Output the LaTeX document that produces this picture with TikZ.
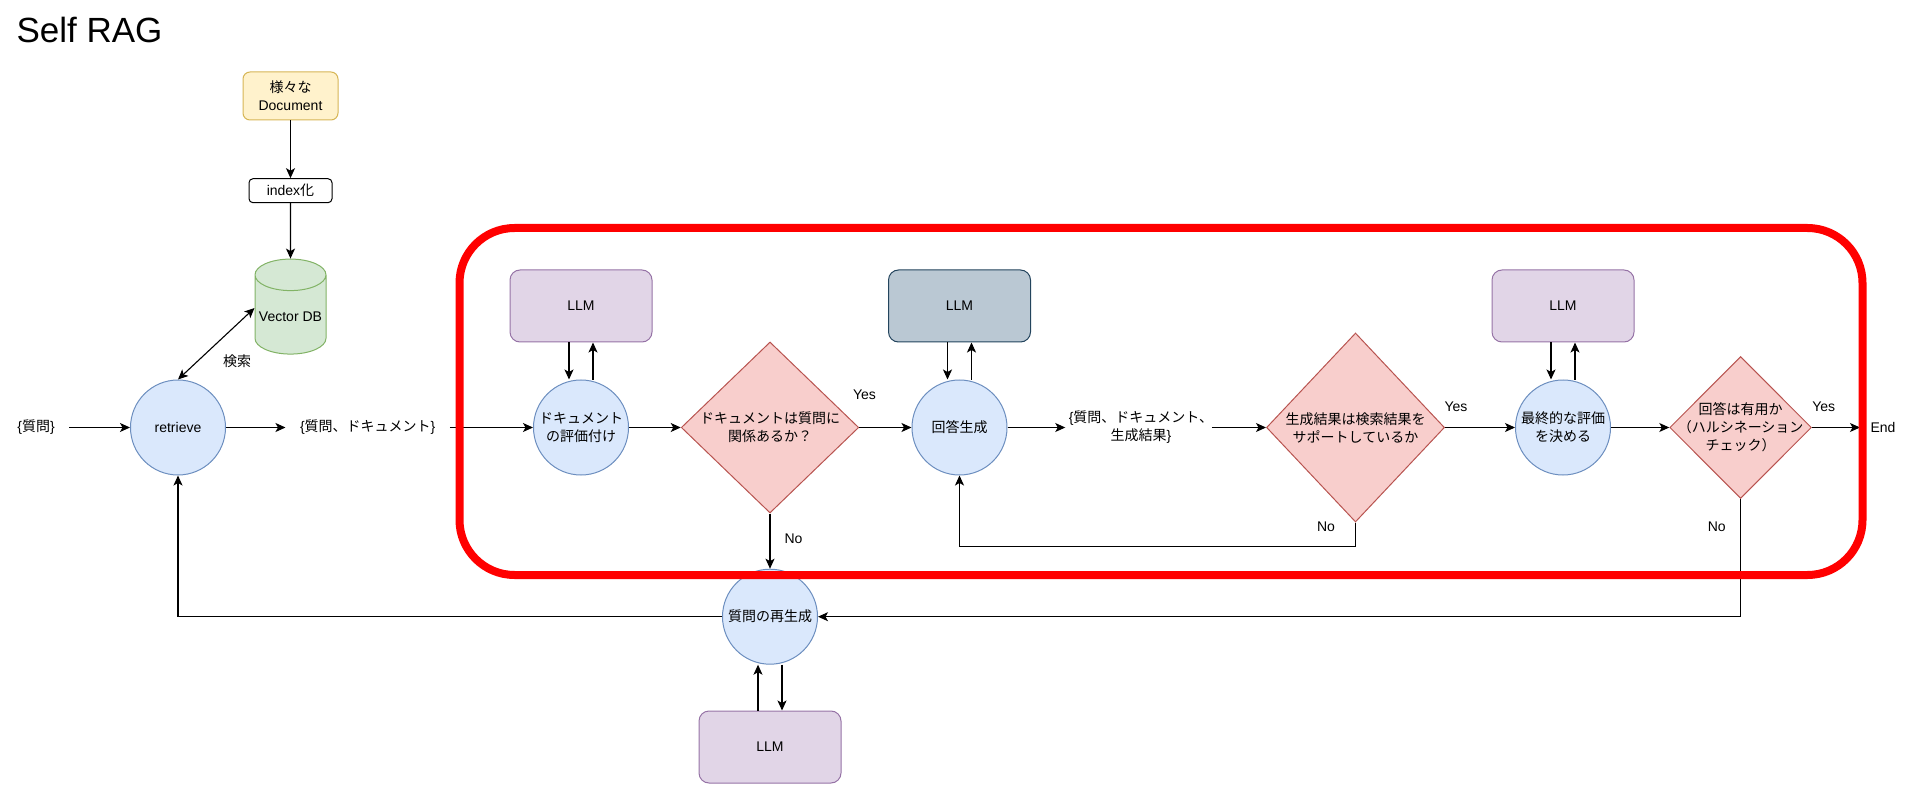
\documentclass[tikz,border=0pt]{standalone}
\usepackage{fontspec}
\setmainfont{Liberation Sans}
\newfontfamily\cjk{Noto Sans CJK JP}
\newcommand{\jp}[1]{{\cjk #1}}
\usetikzlibrary{arrows.meta}
\usetikzlibrary{shapes.geometric}
\definecolor{procfill}{HTML}{DAE8FC}
\definecolor{procline}{HTML}{6C8EBF}
\definecolor{qfill}{HTML}{F8CECC}
\definecolor{qline}{HTML}{B85450}
\definecolor{llmfill}{HTML}{E1D5E7}
\definecolor{llmline}{HTML}{9673A6}
\definecolor{darkfill}{HTML}{BAC8D3}
\definecolor{darkline}{HTML}{23445D}
\definecolor{docfill}{HTML}{FFF2CC}
\definecolor{docline}{HTML}{D6B656}
\definecolor{dbfill}{HTML}{D5E8D4}
\definecolor{dbline}{HTML}{82B366}

\begin{document}
\begin{tikzpicture}[->,>={Stealth[length=10pt,width=9pt,inset=2.5pt]},x=1pt,y=-1pt,line width=1.1pt,
    every node/.style={font=\fontsize{14pt}{18pt}\selectfont,align=center,inner sep=0pt},
    process/.style={circle,draw=procline,fill=procfill,minimum size=95pt,line width=1pt},
    question/.style={diamond,draw=qline,fill=qfill,inner sep=-30pt,line width=1pt},
    llm/.style={rectangle,rounded corners=10pt,draw=llmline,fill=llmfill,minimum width=142pt,minimum height=72pt,line width=1pt},
    llmdark/.style={llm,draw=darkline,fill=darkfill},
    dataset/.style={inner xsep=14pt}]
  \useasboundingbox (0,0) rectangle (1920,802);

  \node[anchor=base west,font=\fontsize{35pt}{35pt}\selectfont] (title) at (16,43) {Self RAG};

  \node[cylinder,shape border rotate=90,aspect=.5,draw=dbline,fill=dbfill,minimum height=95pt,minimum width=71pt,line width=1pt]
      (vdb) at (290.5,314.7) {\smash{\raisebox{-6.5pt}{Vector DB}}};
  \node[rectangle,rounded corners=4pt,draw=black,fill=white,minimum width=83pt,minimum height=24pt,line width=1pt]
      (index) [above of=vdb,node distance=124pt] {index\jp{化}};
  \node[rectangle,rounded corners=7pt,draw=docline,fill=docfill,minimum width=95pt,minimum height=48pt,line width=1pt]
      (docs) [above of=index,node distance=94.7pt] {\jp{様々な}\\Document};

  \node[dataset]	(query) at (36,427.5)                         {\{\jp{質問}\}};
  \node[process]	(retrieve) [right of=query,node distance=142pt]  {retrieve};
  \node[dataset]	(pair) [right of=retrieve,node distance=189.7pt] {\{\jp{質問、ドキュメント}\}};
  \node[process]	(grade) [right of=pair,node distance=213.3pt]    {\jp{ドキュメント}\\\jp{の評価付け}};
  \node[question,minimum width=177.5pt,minimum height=171pt]
      (relevant) [right of=grade,node distance=189pt] {\jp{ドキュメントは質問に}\\\jp{関係あるか？}};
  \node[process]	(generate) [right of=relevant,node distance=189.5pt] {\jp{回答生成}};
  \node[inner xsep=3pt]	(result) [right of=generate,node distance=181.5pt]  {\{\jp{質問、ドキュメント、}\\\jp{生成結果}\}};
  \node[question,minimum width=178pt,minimum height=189pt]
      (support) [right of=result,node distance=214.5pt] {\jp{生成結果は検索結果を}\\\jp{サポートしているか}};
  \node[process]	(final) [right of=support,node distance=207.5pt] {\jp{最終的な評価}\\\jp{を決める}};
  \node[question,minimum width=141.6pt,minimum height=142pt]
      (useful) [right of=final,node distance=177.6pt] {\jp{回答は有用か}\\\jp{（ハルシネーション}\\\jp{チェック）}};
  \node		(finish) [right of=useful,node distance=142.4pt] {End};
  \node[process]	(regen) [below of=relevant,node distance=189.2pt] {\jp{質問の再生成}};

  \node[llm]		(llma) [above of=grade,node distance=121.5pt]    {LLM};
  \node[llmdark]	(llmb) [above of=generate,node distance=121.5pt] {LLM};
  \node[llm]		(llmc) [above of=final,node distance=121.5pt]    {LLM};
  \node[llm]		(llmd) [below of=regen,node distance=130.3pt]    {LLM};

  \node (search) at (237,361)    {\jp{検索}};
  \node (yesa) at (864.5,394.7)  {Yes};
  \node (noa) at (793.5,539)     {No};
  \node (yesb) at (1456,406.7)   {Yes};
  \node (nob) at (1326,527)      {No};
  \node (yesc) at (1823.7,406.7) {Yes};
  \node (noc) at (1716.7,527)    {No};

  \path	(docs) edge (index)
	(index) edge (vdb.north)
	(query) edge (retrieve)
	(retrieve) edge (pair)
	(pair) edge (grade)
	(grade) edge (relevant)
	(relevant) edge (generate)
	(generate) edge (result)
	(support) edge (final)
	(final) edge (useful)
	(relevant) edge (regen)
	([xshift=-5pt]result.east) edge (support.west)
	(useful) edge ([xshift=-10pt]finish.west)
	([xshift=-12pt]llma.south) edge ([xshift=-12pt]grade.north)
	([xshift=12pt]grade.north) edge ([xshift=12pt]llma.south)
	([xshift=-12pt]llmb.south) edge ([xshift=-12pt]generate.north)
	([xshift=12pt]generate.north) edge ([xshift=12pt]llmb.south)
	([xshift=-12pt]llmc.south) edge ([xshift=-12pt]final.north)
	([xshift=12pt]final.north) edge ([xshift=12pt]llmc.south)
	([xshift=-12pt]llmd.north) edge ([xshift=-12pt]regen.south)
	([xshift=12pt]regen.south) edge ([xshift=12pt]llmd.north);
  \draw[<->] (retrieve.north) -- ([yshift=6.7pt]vdb.west);
  \draw (support.south) -- ++(0,23.7) -| (generate.south);
  \draw (useful.south) |- (regen.east);
  \draw (regen.west) -| (retrieve.south);

  \node[rectangle,rounded corners=55pt,draw=red,line width=8pt,minimum width=1403pt,minimum height=347pt]
      (focus) at (1161,401.5) {};
\end{tikzpicture}
\end{document}
